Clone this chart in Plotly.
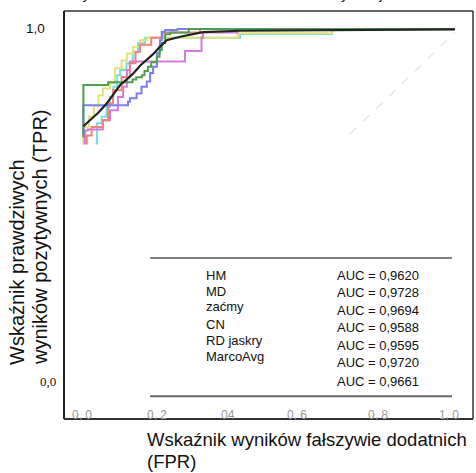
import plotly.graph_objects as go

# ---------------- data ----------------
hm_fpr = [0.009, 0.009, 0.128, 0.133, 0.151, 0.164, 0.178, 0.187, 0.195, 0.205, 0.213, 0.218, 0.227, 0.26, 1.0]
hm_tpr = [0.70, 0.782, 0.792, 0.802, 0.816, 0.835, 0.850, 0.874, 0.892, 0.931, 0.968, 0.992, 0.997, 1.0, 1.0]

md_fpr = [0.009, 0.009, 0.075, 0.128, 0.14, 0.15, 0.165, 0.172, 0.181, 0.19, 0.205, 0.212, 0.218, 0.227, 0.24, 0.29, 1.0]
md_tpr = [0.69, 0.84, 0.848, 0.848, 0.856, 0.862, 0.868, 0.88, 0.892, 0.905, 0.921, 0.94, 0.96, 0.985, 0.99, 1.0, 1.0]

zacmy_fpr = [0.018, 0.018, 0.031, 0.061, 0.075, 0.088, 0.111, 0.133, 0.148, 0.16, 0.19, 0.22, 0.32, 1.0]
zacmy_tpr = [0.67, 0.696, 0.72, 0.739, 0.788, 0.825, 0.863, 0.902, 0.935, 0.955, 0.975, 0.99, 1.0, 1.0]

cn_fpr = [0.009, 0.009, 0.024, 0.037, 0.049, 0.061, 0.08, 0.093, 0.111, 0.125, 0.142, 0.16, 0.178, 0.42, 0.672, 1.0]
cn_tpr = [0.67, 0.72, 0.75, 0.78, 0.81, 0.83, 0.845, 0.888, 0.91, 0.93, 0.949, 0.968, 0.975, 0.988, 1.0, 1.0]

rd_fpr = [0.013, 0.013, 0.021, 0.061, 0.08, 0.101, 0.115, 0.125, 0.133, 0.28, 0.324, 0.328, 0.42, 1.0]
rd_tpr = [0.67, 0.71, 0.713, 0.739, 0.768, 0.806, 0.835, 0.883, 0.907, 0.937, 0.975, 0.99, 1.0, 1.0]

jaskra_fpr = [0.045, 0.045, 0.058, 0.071, 0.080, 0.089, 0.099, 0.107, 0.124, 0.141, 0.155, 0.173, 0.427, 0.672, 1.0]
jaskra_tpr = [0.67, 0.731, 0.749, 0.777, 0.806, 0.835, 0.868, 0.883, 0.902, 0.934, 0.959, 0.975, 0.986, 1.0, 1.0]

avg_fpr = [0.009, 0.022, 0.035, 0.05, 0.071, 0.09, 0.107, 0.125, 0.142, 0.16, 0.178, 0.195, 0.213, 0.231, 0.267, 0.328, 0.427, 1.0]
avg_tpr = [0.722, 0.735, 0.749, 0.762, 0.787, 0.815, 0.840, 0.856, 0.873, 0.895, 0.911, 0.928, 0.949, 0.968, 0.978, 0.991, 0.995, 0.999]

diag_fpr = [0.72, 1.0]
diag_tpr = [0.70, 0.99]

legend_labels = ["HM", "MD", "zaćmy", "CN", "RD jaskry", "MarcoAvg"]
auc_labels = ["AUC = 0,9620", "AUC = 0,9728", "AUC = 0,9694", "AUC = 0,9588",
              "AUC = 0,9595", "AUC = 0,9720", "AUC = 0,9661"]

x_tick_vals = [0.0, 0.2, 0.4, 0.6, 0.8, 1.0]
x_tick_text = ["0, 0", "0, 2", "04", "0, 6", "0, 8", "1, 0"]
y_tick_vals = [0.0, 1.0]
y_tick_text = ["0,0", "1,0"]

title_text = "Krzywe ROC dla modelu DenseNet w klasyfikacji chorób oczu"

SANS = "Arial, Liberation Sans, sans-serif"
SERIF = "Times New Roman, Liberation Serif, serif"

# ---------------- figure ----------------
fig = go.Figure()

series = [
    (jaskra_fpr, jaskra_tpr, "#72dede", 2, "hv"),
    (cn_fpr, cn_tpr, "#e2e27a", 2, "hv"),
    (rd_fpr, rd_tpr, "#d47ade", 2, "hv"),
    (zacmy_fpr, zacmy_tpr, "#f47f7f", 2, "hv"),
    (hm_fpr, hm_tpr, "#7d7df2", 2, "hv"),
    (md_fpr, md_tpr, "#4f9f4f", 2, "hv"),
    (avg_fpr, avg_tpr, "#222222", 2.2, "linear"),
]
fig.add_trace(go.Scatter(x=diag_fpr, y=diag_tpr, mode="lines",
                         line=dict(color="#e4e4e4", width=1.2, dash="dash"),
                         hoverinfo="skip"))
for xs, ys, col, w, shp in series:
    fig.add_trace(go.Scatter(x=xs, y=ys, mode="lines",
                             line=dict(color=col, width=w, shape=shp)))

ann = []
# legend-like table
lab_y = [0.297, 0.249, 0.206, 0.157, 0.111, 0.063]
auc_y = [0.297, 0.246, 0.197, 0.146, 0.097, 0.046, -0.006]
for t, yy in zip(legend_labels, lab_y):
    ann.append(dict(x=0.331, y=yy, xref="x", yref="y", text=t, showarrow=False,
                    xanchor="left", yanchor="middle",
                    font=dict(family=SANS, size=13, color="#111")))
for t, yy in zip(auc_labels, auc_y):
    ann.append(dict(x=0.68, y=yy, xref="x", yref="y", text=t, showarrow=False,
                    xanchor="left", yanchor="middle",
                    font=dict(family=SANS, size=13, color="#111")))

# x tick labels (gray, struck by the axis line)
x_shifts = [2, 2, -2, -8, -2, -6]
for v, t, s in zip(x_tick_vals, x_tick_text, x_shifts):
    ann.append(dict(x=v, y=0, xref="x", yref="paper", text=t, showarrow=False,
                    xanchor="center", yanchor="middle", yshift=4, xshift=s,
                    font=dict(family=SANS, size=12, color="#999")))
# y tick labels
ann.append(dict(x=0, y=y_tick_vals[1], xref="paper", yref="y", text=y_tick_text[1],
                showarrow=False, xanchor="right", yanchor="middle", xshift=-17, yshift=1,
                font=dict(family=SANS, size=13.5, color="#111")))
ann.append(dict(x=0, y=y_tick_vals[0], xref="paper", yref="y", text=y_tick_text[0],
                showarrow=False, xanchor="right", yanchor="middle", xshift=-6, yshift=-2,
                font=dict(family=SERIF, size=13, color="#111")))

# axis titles
ann.append(dict(x=(145 - 64) / 409, y=(419 - 439) / 408, xref="paper", yref="paper",
                text="Wskaźnik wyników fałszywie dodatnich", showarrow=False,
                xanchor="left", yanchor="middle",
                font=dict(family=SANS, size=18.5, color="#111")))
ann.append(dict(x=(145 - 64) / 409, y=(419 - 461) / 408, xref="paper", yref="paper",
                text="(FPR)", showarrow=False, xanchor="left", yanchor="middle",
                font=dict(family=SANS, size=18.5, color="#111")))
ann.append(dict(x=(17 - 64) / 409, y=(419 - 367) / 408, xref="paper", yref="paper",
                text="Wskaźnik prawdziwych", showarrow=False, textangle=-90,
                xanchor="center", yanchor="bottom",
                font=dict(family=SANS, size=20, color="#111")))
ann.append(dict(x=(40 - 64) / 409, y=(419 - 367) / 408, xref="paper", yref="paper",
                text="wyników pozytywnych (TPR)", showarrow=False, textangle=-90,
                xanchor="center", yanchor="bottom",
                font=dict(family=SANS, size=20, color="#111")))
# cut-off title (only its lowest pixels show, as in the reference)
ann.append(dict(x=(58 - 64) / 409, y=1, xref="paper", yref="paper", text=title_text,
                showarrow=False, xanchor="left", yanchor="bottom", yshift=7,
                font=dict(family=SANS, size=15, color="#222")))

shapes = [
    # table rules
    dict(type="line", xref="x", yref="y", x0=0.187, x1=0.992, y0=0.346, y1=0.346,
         line=dict(color="#555", width=1.5)),
    dict(type="line", xref="x", yref="y", x0=0.187, x1=0.992, y0=-0.049, y1=-0.049,
         line=dict(color="#666", width=2)),
    # frame
    dict(type="line", xref="paper", yref="paper", x0=0, x1=1, y0=1, y1=1,
         line=dict(color="#333", width=1.5)),
    dict(type="line", xref="paper", yref="paper", x0=1, x1=1, y0=0, y1=1,
         line=dict(color="#333", width=1.5)),
    dict(type="line", xref="paper", yref="paper", x0=0, x1=0, y0=0, y1=1,
         line=dict(color="#222", width=2)),
    dict(type="line", xref="paper", yref="paper", x0=0, x1=1, y0=0, y1=0,
         line=dict(color="#333", width=2)),
]

fig.update_layout(
    width=476, height=473,
    margin=dict(l=64, r=3, t=11, b=54),
    paper_bgcolor="white", plot_bgcolor="white",
    showlegend=False,
    annotations=ann, shapes=shapes,
    xaxis=dict(range=[-16 / 375, 1 + 18 / 375], showgrid=False, zeroline=False,
               showticklabels=False, ticks="", showline=False),
    yaxis=dict(range=[-40 / 350, 1 + 18 / 350], showgrid=False, zeroline=False,
               showticklabels=False, ticks="", showline=False),
)

fig.write_html("out.html")
